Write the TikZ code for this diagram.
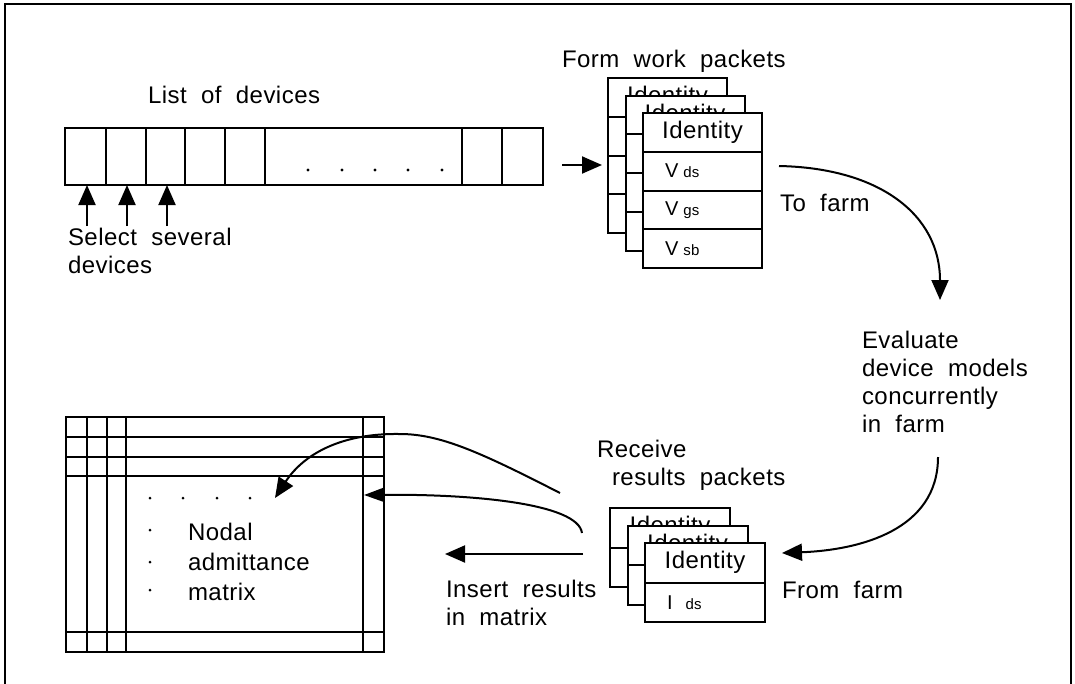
\documentclass[tikz,border=0pt]{standalone}
\usepackage{fontspec}
\setmainfont{Liberation Sans}[LetterSpace=2,WordSpace=2]
\usetikzlibrary{arrows.meta}
\newcommand\pktV[1]{{\fontsize{20}{20}\selectfont V}\hspace{5pt}{\fontsize{15}{15}\selectfont #1}}
\newcommand\pktI[1]{{\fontsize{20}{20}\selectfont I}\hspace{13pt}{\fontsize{15}{15}\selectfont #1}}
\begin{document}
\begin{tikzpicture}[x=1pt,y=-1pt,
  every node/.style={inner sep=0pt, outer sep=0pt},
  txt/.style={font=\fontsize{24}{28}\selectfont, align=left, anchor=base west},
  ln/.style={line width=2pt},
  arr/.style={line width=2pt, -{Triangle[length=20pt,width=17pt]}},
  cell/.style={draw, line width=2pt, minimum height=57pt, anchor=north west},
  prow/.style={draw, fill=white, line width=2pt, minimum width=119pt, minimum height=#1,
     anchor=north west, font=\fontsize{24}{28}\selectfont},
  prow/.default=38.75pt,
  vrow/.style={text width=75pt, align=left, inner xsep=22pt},
  dot/.style={fill=black}
]
\useasboundingbox (0,0) rectangle (1075,683);
% frame
\draw[line width=2.7pt] (5,700) -- (5,4) -- (1071,4) -- (1071,700);

% list of devices
\node[txt] (lod) at (148,103) {List of devices};
\node[cell, minimum width=41pt] (c1) at (65,128) {};
\node[cell, minimum width=40pt] (c2) at (106,128) {};
\node[cell, minimum width=39pt] (c3) at (146,128) {};
\node[cell, minimum width=40pt] (c4) at (185,128) {};
\node[cell, minimum width=40pt] (c5) at (225,128) {};
\node[cell, minimum width=197pt] (c6) at (265,128) {};
\node[cell, minimum width=40pt] (c7) at (462,128) {};
\node[cell, minimum width=41pt] (c8) at (502,128) {};
\foreach \x in {308,342,375,408,442} \fill[dot] (\x,170) circle (1.6pt);

\coordinate (s1) at (87,226);
\coordinate (s2) at (127,226);
\coordinate (s3) at (167,226);
\draw[arr] (s1) -- (s1 |- c1.south);
\draw[arr] (s2) -- (s2 |- c2.south);
\draw[arr] (s3) -- (s3 |- c3.south);
\node[txt] (sel) at (68,273) {Select several\\devices};

% work packets
\node[txt] (fwp) at (562,67) {Form work packets};
\foreach \k/\x/\y in {1/608/78, 2/625.5/95.5} {
  \node[prow] (w\k-a) at (\x,\y) {Identity};
  \node[prow] (w\k-b) at (w\k-a.south west) {};
  \node[prow] (w\k-c) at (w\k-b.south west) {};
  \node[prow] (w\k-d) at (w\k-c.south west) {};
}
\node[prow] (fa) at (643,113) {Identity};
\node[prow, vrow] (fb) at (fa.south west) {\pktV{ds}};
\node[prow, vrow] (fc) at (fb.south west) {\pktV{gs}};
\node[prow, vrow] (fd) at (fc.south west) {\pktV{sb}};

\coordinate (la) at (562,165);
\coordinate (lb) at (602,165);
\draw[arr] (la) -- (lb);

% to farm
\node[txt] (tofarm) at (780,211) {To farm};
\coordinate (tf) at (779,166);
\coordinate (ev) at (940,300);
\draw[arr] (tf) .. controls (880,168) and (940,215) .. (ev);

\node[txt] (eval) at (862,432) {Evaluate\\device models\\concurrently\\in farm};

% from farm
\coordinate (ff) at (938,457);
\coordinate (rf) at (782,553);
\draw[arr] (ff) .. controls (938,530) and (860,550) .. (rf);
\node[txt] (fromfarm) at (782,598) {From farm};

% result packets
\node[txt] (rcv) at (597,485) {Receive\\\hspace*{15pt}results packets};
\foreach \k/\x/\y in {1/610/508, 2/627.5/525.5} {
  \node[prow=39.5pt, minimum width=120pt] (r\k-a) at (\x,\y) {Identity};
  \node[prow=39.5pt, minimum width=120pt] (r\k-b) at (r\k-a.south west) {};
}
\node[prow=39.5pt, minimum width=120pt] (ra) at (645,543) {Identity};
\node[prow=39.5pt, minimum width=120pt, vrow, text width=76pt] (rb) at (ra.south west) {\pktI{ds}};

% insert
\coordinate (ia) at (583,554);
\coordinate (ib) at (445,554);
\draw[arr] (ia) -- (ib);
\node[txt] (ins) at (446,625) {Insert results\\in matrix};

% matrix
\node[draw, line width=2pt, minimum width=318pt, minimum height=235pt, anchor=north west] (mat) at (66,417) {};
\foreach \x in {87,107,126,363} \draw[ln] (\x,417) -- (\x,652);
\foreach \y in {437,457,476,632} \draw[ln] (66,\y) -- (384,\y);
\foreach \x in {150,183,217,250} \fill[dot] (\x,498) circle (1.5pt);
\foreach \y in {530,562,590} \fill[dot] (150,\y) circle (1.5pt);
\node[txt] (nodal) at (188,600) {Nodal\\[2pt]admittance\\[2pt]matrix};

% insert curves
\coordinate (k1) at (560,493);
\coordinate (m1) at (275,498);
\draw[arr] (k1) .. controls (480,452) and (440,434) .. (400,434) .. controls (340,433) and (303,455) .. (m1);
\coordinate (k2) at (582,533);
\coordinate (m2) at (364,495);
\draw[line width=2pt, -{Triangle[length=20pt,width=14pt]}] (k2) .. controls (578,503) and (470,494) .. (m2);
\end{tikzpicture}
\end{document}
